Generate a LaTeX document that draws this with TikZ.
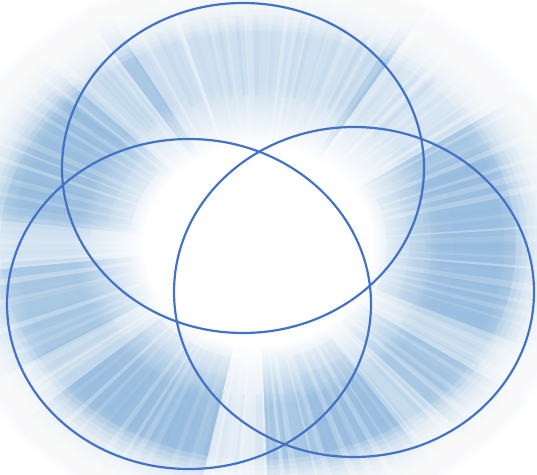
\documentclass[tikz,border=0pt]{standalone}
\usepackage{xcolor}
\usepackage{tikz}
\definecolor{myblue}{RGB}{68,114,196}
\definecolor{burstblue}{RGB}{168,200,228}
\definecolor{raysblue}{RGB}{122,170,214}
% radial glow: white centre, blue ring, white rim
\pgfdeclareradialshading{burstshade}{\pgfpointorigin}{color(0bp)=(white); color(8bp)=(white); color(13bp)=(burstblue); color(17bp)=(burstblue); color(23bp)=(white); color(50bp)=(white)}
\tikzset{
  ring/.style={draw=myblue, line width=2.2bp},
  ray/.style={fill=raysblue, draw=none},
  streak/.style={fill=white, draw=none},
  rimhaze/.style={fill=white, draw=none, opacity=0.16, even odd rule}
}

\begin{document}
\begin{tikzpicture}[x=1bp, y=-1bp]
  \useasboundingbox (0,0) rectangle (537,475);
  \coordinate (burst) at (258,245);

  % Light burst
  \begin{scope}
    \clip (0,0) rectangle (537,475);
    \fill[white] (0,0) rectangle (537,475);
    \shade[shading=burstshade] (burst) ellipse[x radius=354, y radius=310];
    \begin{scope}[shift={(burst)}, xscale=1.12]
      % stronger directions
      \foreach \a/\w in {0/50, 120/45, 205/30, 65/20}
        \foreach \r/\s in {115/250, 135/240, 155/230, 175/220}
          \fill[ray, opacity=0.07] ({\a-\w/2}:\r) -- ({\a-\w/2}:\s) arc[start angle=\a-\w/2, end angle=\a+\w/2, radius=\s] -- ({\a+\w/2}:\r) arc[start angle=\a+\w/2, end angle=\a-\w/2, radius=\r] -- cycle;
      % weaker directions
      \foreach \a/\w/\o in {95/14/0.7, 180/12/0.5, 270/60/0.45, 315/25/0.55, 28/10/0.4, 145/10/0.4, 50/8/0.35, 230/12/0.4}
        \fill[streak, opacity=\o] (0,0) -- ({\a-\w/2}:340) arc[start angle=\a-\w/2, end angle=\a+\w/2, radius=340] -- cycle;
      % fine rays
      \pgfmathsetseed{7}
      \foreach \i in {0,...,99}{
        \pgfmathsetmacro\ang{\i*3.6+3*rnd}
        \pgfmathsetmacro\wid{0.5+1.2*rnd}
        \pgfmathsetmacro\op{0.08+0.25*rnd}
        \fill[streak, opacity=\op] (0,0) -- (\ang:340) arc[start angle=\ang, end angle=\ang+\wid, radius=340] -- cycle;
      }
      \pgfmathsetseed{23}
      \foreach \i in {0,...,89}{
        \pgfmathsetmacro\ang{\i*4+3*rnd}
        \pgfmathsetmacro\wid{0.8+1.5*rnd}
        \pgfmathsetmacro\op{0.03+0.08*rnd}
        \fill[ray, opacity=\op] (\ang:150) -- (\ang:230) arc[start angle=\ang, end angle=\ang+\wid, radius=230] -- ({\ang+\wid}:150) arc[start angle=\ang+\wid, end angle=\ang, radius=150] -- cycle;
      }
    \end{scope}
    % fade the rim to white
    \foreach \f in {0.86,0.88,...,1.12}
      \fill[rimhaze] (-10,-10) rectangle (547,485) (burst) ellipse[x radius=300*\f, y radius=250*\f];
    \fill[white, even odd rule] (-10,-10) rectangle (547,485) (burst) ellipse[x radius=342, y radius=285];
  \end{scope}

  % Three circles
  \coordinate (top) at (243,168);
  \coordinate (left) at (189,304);
  \coordinate (right) at (354,292);
  \draw[ring] (top) ellipse[x radius=181, y radius=165];
  \draw[ring] (left) ellipse[x radius=182, y radius=165];
  \draw[ring] (right) ellipse[x radius=180, y radius=165];
\end{tikzpicture}
\end{document}
